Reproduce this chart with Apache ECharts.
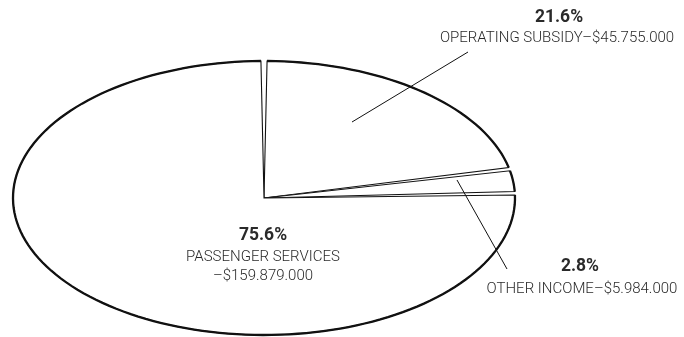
<!DOCTYPE html>
<html lang="en">

<head>
    <meta charset="UTF-8">
    <title>Revenue Pie</title>
    <script src="https://cdn.jsdelivr.net/npm/echarts@6/dist/echarts.min.js"></script>
    <style>
        html, body { margin: 0; padding: 0; background: #fff; }
    </style>
</head>

<body>
    <div id="pieChart" style="width: 684px; height: 337px;"></div>

    <script>
        // data
        var categories = ['OPERATING SUBSIDY', 'OTHER INCOME', 'PASSENGER SERVICES'];
        var amounts = [45755000, 5984000, 159879000];
        var percentLabels = ['21.6%', '2.8%', '75.6%'];
        var amountLabels = ['$45.755.000', '$5.984.000', '$159.879.000'];

        // cumulative fractions -> [start, end] per slice
        var total = amounts.reduce(function (a, b) { return a + b; }, 0);
        var sliceData = [];
        var acc = 0;
        for (var i = 0; i < amounts.length; i++) {
            sliceData.push([acc / total, (acc + amounts[i]) / total, i]);
            acc += amounts[i];
        }

        var padAngle = 0.7 * Math.PI / 180;
        var ink = '#111';
        var textColor = '#2a2a2a';
        var fontFamily = 'Roboto, "Liberation Sans", Arial, sans-serif';

        function renderSlice(params, api) {
            var f0 = api.value(0);
            var f1 = api.value(1);
            // start at 12 o'clock, go clockwise
            var a0 = Math.PI / 2 - 2 * Math.PI * f0 - padAngle;
            var a1 = Math.PI / 2 - 2 * Math.PI * f1 + padAngle;
            var steps = Math.max(8, Math.ceil((a0 - a1) / (Math.PI / 90)));
            var arc = [];
            for (var k = 0; k <= steps; k++) {
                var a = a0 + (a1 - a0) * k / steps;
                arc.push(api.coord([Math.cos(a), Math.sin(a)]));
            }
            var c = api.coord([0, 0]);
            return {
                type: 'group',
                children: [
                    {
                        type: 'polygon',
                        shape: { points: [c].concat(arc) },
                        style: { fill: '#fff', stroke: ink, lineWidth: 1.1 }
                    },
                    {
                        type: 'polyline',
                        shape: { points: arc },
                        style: { fill: null, stroke: ink, lineWidth: 2.3 }
                    }
                ]
            };
        }

        function label(text, x, y, size, weight) {
            return {
                type: 'text',
                x: x,
                y: y,
                z: 100,
                style: {
                    text: text,
                    fill: textColor,
                    font: weight + ' ' + size + 'px ' + fontFamily,
                    textAlign: 'center',
                    textVerticalAlign: 'middle'
                }
            };
        }

        function leader(x1, y1, x2, y2) {
            return {
                type: 'line',
                shape: { x1: x1, y1: y1, x2: x2, y2: y2 },
                style: { stroke: ink, lineWidth: 1 },
                z: 100
            };
        }

        var chartDom = document.getElementById('pieChart');
        var myChart = echarts.init(chartDom);

        var option = {
            backgroundColor: '#fff',
            animation: false,
            grid: { left: 13, right: 169, top: 61, bottom: 2 },
            xAxis: { type: 'value', min: -1, max: 1, show: false },
            yAxis: { type: 'value', min: -1, max: 1, show: false },
            series: [
                {
                    type: 'custom',
                    name: 'Revenue',
                    renderItem: renderSlice,
                    encode: { x: 0, y: 1 },
                    data: sliceData,
                    clip: false,
                    z: 1
                }
            ],
            graphic: [
                leader(468, 52, 352, 122),
                leader(457, 180, 507, 269),
                label(percentLabels[0], 559, 18, 17.5, 'bold'),
                label(categories[0] + '\u2013' + amountLabels[0], 557, 38, 15, '300'),
                label(percentLabels[1], 580, 267, 17.5, 'bold'),
                label(categories[1] + '\u2013' + amountLabels[1], 582, 289, 15, '300'),
                label(percentLabels[2], 263, 236, 17.5, 'bold'),
                label(categories[2], 263, 257, 15, '300'),
                label('\u2013' + amountLabels[2], 263, 276, 15, '300')
            ]
        };

        option && myChart.setOption(option);
    </script>

</body>

</html>
